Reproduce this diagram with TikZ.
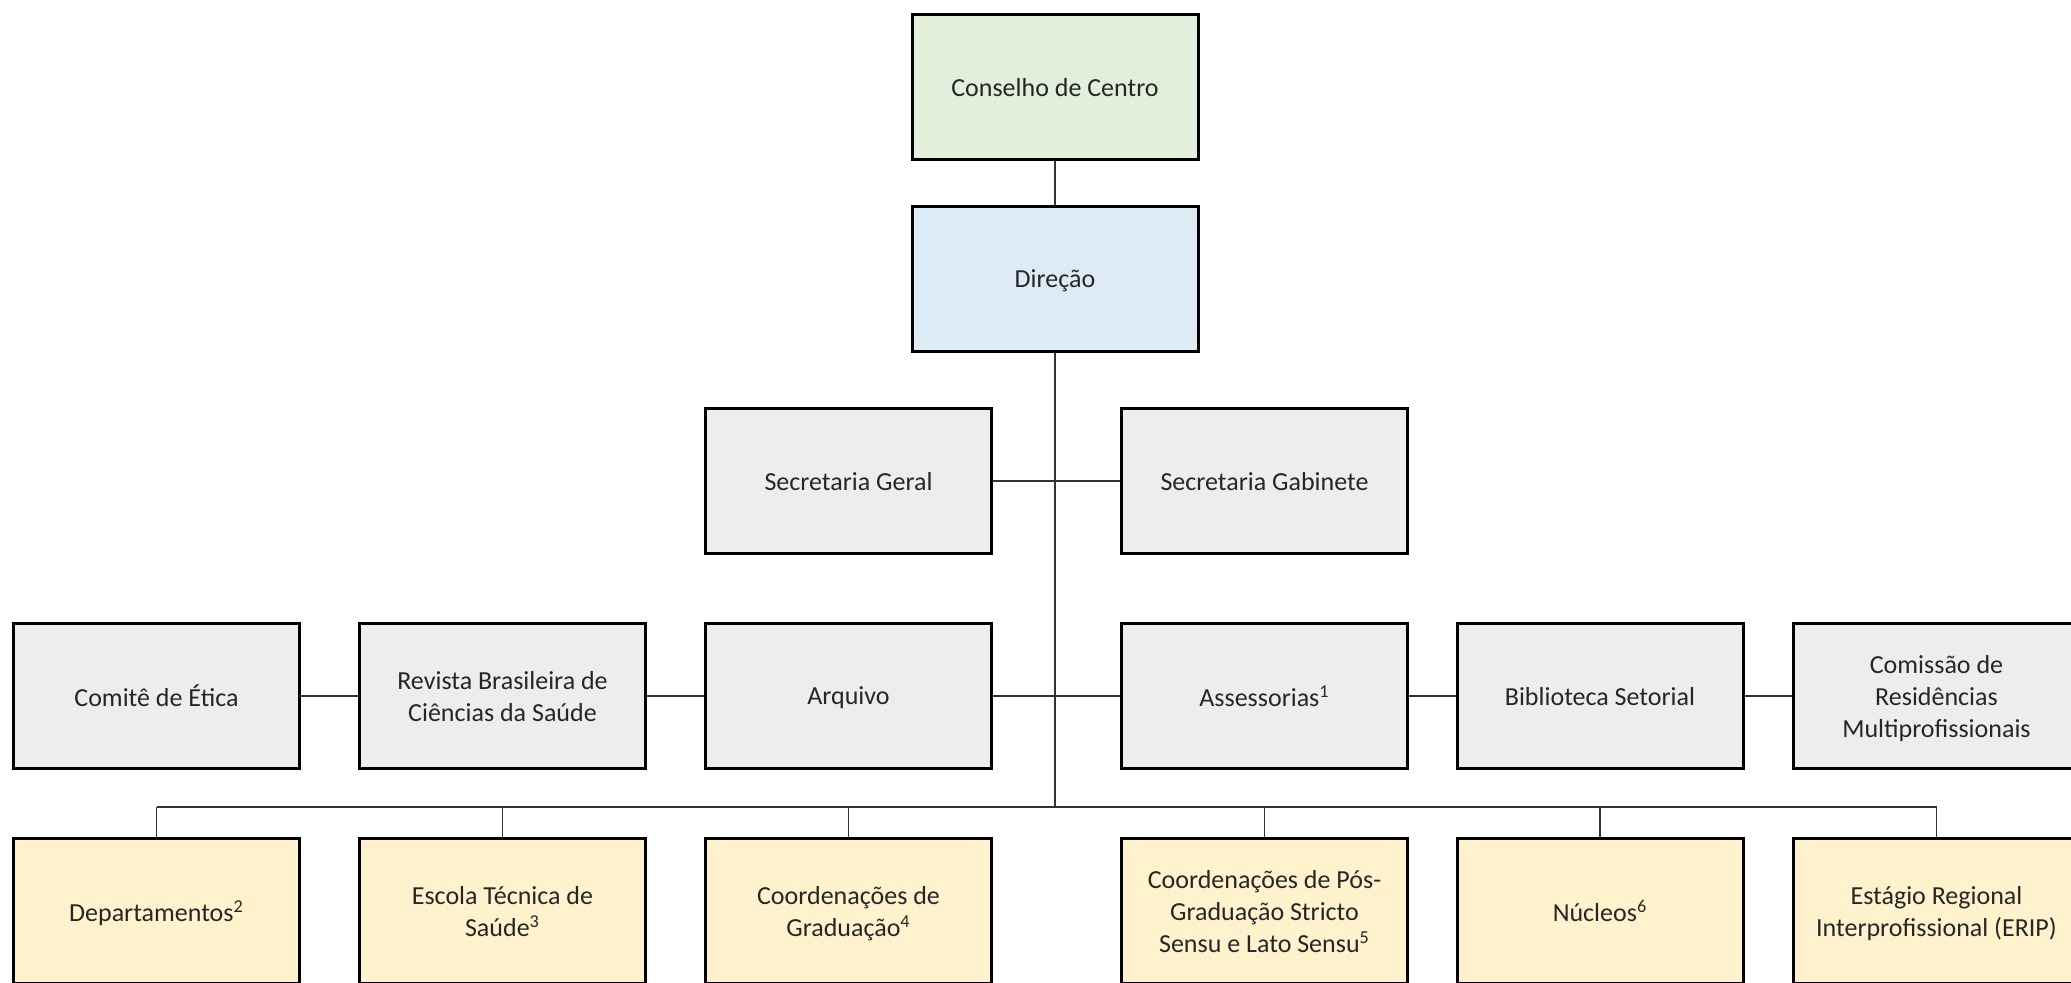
\documentclass[tikz,border=0pt]{standalone}
\usepackage{fontspec}
\setmainfont{Carlito}
\usepackage{tikz}
\usetikzlibrary{positioning,calc}

\definecolor{boxgreen}{HTML}{E2EFDA}
\definecolor{boxblue}{HTML}{DDEBF7}
\definecolor{boxgray}{HTML}{EDEDED}
\definecolor{boxyellow}{HTML}{FFF2CC}
\definecolor{txtgray}{HTML}{262626}

\tikzset{
    unit/.style={draw=black, line width=1.5pt, minimum width=143pt, minimum height=72.5pt,
        inner sep=2pt, text depth=0pt, align=center, text=txtgray, font=\fontsize{13pt}{16pt}\selectfont},
    council/.style={unit, fill=boxgreen},
    board/.style={unit, fill=boxblue},
    office/.style={unit, fill=boxgray},
    branch/.style={unit, fill=boxyellow},
    link/.style={line width=0.75pt, draw=black!80}
}

\begin{document}
\begin{tikzpicture}[x=0.5pt, y=-0.5pt]

    % page frame
    \useasboundingbox (0,0) rectangle (2071,983);
    \clip (0,0) rectangle (2071,983);

    % draw top nodes
    \node[council] (conselho) at (1055,87) {Conselho de Centro};
    \node[board] (direcao) at (1055,279) {Direção};

    % draw secretarias
    \node[office] (secgeral) at (848.5,481) {Secretaria Geral};
    \node[office] (secgab) at (1264.5,481) {Secretaria Gabinete};

    % draw support row
    \node[office] (comite) at (156.5,696) {Comitê de Ética};
    \node[office] (revista) at (502.5,696) {Revista Brasileira de\\Ciências da Saúde};
    \node[office] (arquivo) at (848.5,696) {Arquivo};
    \node[office] (assess) at (1264.5,696) {Assessorias\textsuperscript{1}};
    \node[office] (biblio) at (1600,696) {Biblioteca Setorial};
    \node[office] (comissao) at (1936.5,696) {Comissão de\\Residências\\Multiprofissionais};

    % draw academic row
    \node[branch] (depto) at (156.5,911) {Departamentos\textsuperscript{2}};
    \node[branch] (escola) at (502.5,911) {Escola Técnica de\\Saúde\textsuperscript{3}};
    \node[branch] (grad) at (848.5,911) {Coordenações de\\Graduação\textsuperscript{4}};
    \node[branch] (pos) at (1264.5,911) {Coordenações de Pós-\\Graduação Stricto\\Sensu e Lato Sensu\textsuperscript{5}};
    \node[branch] (nucleos) at (1600,911) {Núcleos\textsuperscript{6}};
    \node[branch] (erip) at (1936.5,911) {Estágio Regional\\Interprofissional (ERIP)};

    % draw connectors
    \coordinate (bus) at (1055,807);
    \draw[link] (conselho) -- (direcao);
    \draw[link] (direcao) -- (bus);
    \draw[link] (secgeral) -- (secgab);
    \draw[link] (arquivo) -- (assess);
    \draw[link] (comite) -- (revista);
    \draw[link] (revista) -- (arquivo);
    \draw[link] (assess) -- (biblio);
    \draw[link] (biblio) -- (comissao);

    % draw bus to bottom row
    \draw[link] (depto.north |- bus) -- (erip.north |- bus);
    \foreach \n in {depto,escola,grad,pos,nucleos,erip}
    \draw[link] (\n.north |- bus) -- (\n.north);

\end{tikzpicture}
\end{document}
